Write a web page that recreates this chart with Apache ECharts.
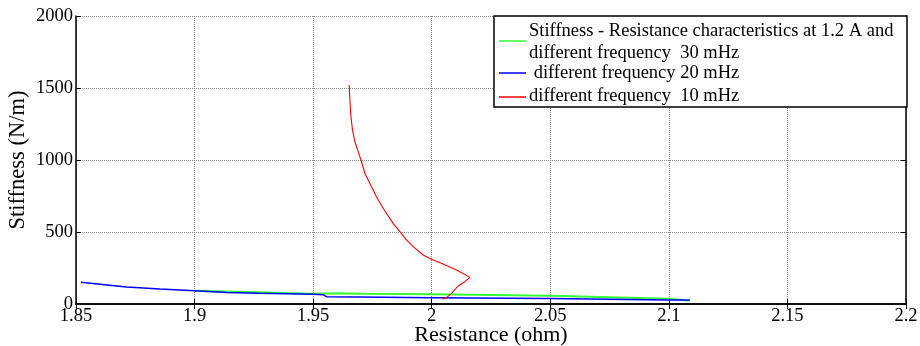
<!DOCTYPE html>
<html><head><meta charset="utf-8">
<script src="https://cdn.jsdelivr.net/npm/echarts@6/dist/echarts.min.js"></script>
<style>html,body{margin:0;padding:0;background:#fff}#c{width:920px;height:346px}</style>
</head><body><div id="c"></div>
<script>
var xTicks = [1.85, 1.9, 1.95, 2, 2.05, 2.1, 2.15, 2.2];
var yTicks = [0, 500, 1000, 1500, 2000];

var greenX = [1.90, 1.922, 1.95, 1.9613, 1.97, 2.0, 2.05, 2.1, 2.1088];
var greenY = [92, 83, 72, 74, 72, 67, 58, 37, 23];

var blueX = [1.8521, 1.8713, 1.8854, 1.9, 1.9135, 1.9275, 1.95, 1.9542, 1.9556, 1.9697, 2.0, 2.05, 2.1, 2.1088];
var blueY = [151, 118, 104, 92, 80, 74, 67, 65, 51, 49, 44, 38, 28, 27];

var redX = [1.9652, 1.9655, 1.9659, 1.9666, 1.9676, 1.9690, 1.9704, 1.9718, 1.9739, 1.9767, 1.9795, 1.9809, 1.9837, 1.9866, 1.9894, 1.9922, 1.9964, 1.9999, 2.0048, 2.0105, 2.0161, 2.0140, 2.0111, 2.0084, 2.0062, 2.0048, 2.0046];
var redY = [1521, 1417, 1308, 1208, 1127, 1058, 988, 908, 838, 745, 665, 630, 560, 502, 444, 398, 340, 310, 278, 236, 185, 155, 125, 74, 44, 35, 44];

var names = ['Stiffness - Resistance characteristics at 1.2 A and\ndifferent frequency  30 mHz', ' different frequency 20 mHz', 'different frequency  10 mHz'];
var xTitle = 'Resistance (ohm)';
var yTitle = 'Stiffness (N/m)';

function pairs(xs, ys){ return xs.map(function(x,i){ return [x, ys[i]]; }); }

var font = '"Liberation Serif", "Times New Roman", serif';
var chart = echarts.init(document.getElementById('c'));
var L = 76, R = 14, T = 16, B = 42;
var gridLine = {show:true, lineStyle:{color:'#888', type:[1,1], width:1}};
chart.setOption({
  animation:false,
  textStyle:{fontFamily:font},
  grid:{left:L, right:R, top:T, bottom:B, containLabel:false, outerBoundsMode:'none'},
  xAxis:[{
    type:'value', min:1.85, max:2.2, interval:0.05,
    axisLine:{show:true, onZero:false, lineStyle:{color:'#000', width:1.5}},
    axisTick:{show:true, inside:true, length:5, lineStyle:{color:'#000'}},
    axisLabel:{color:'#000', fontSize:18.5, fontFamily:font, margin:3,
      formatter:function(v){ return String(parseFloat(v.toFixed(2))); }},
    splitLine:gridLine,
    name:xTitle, nameLocation:'middle', nameGap:20, nameMoveOverlap:false,
    nameTextStyle:{color:'#000', fontSize:22, fontFamily:font}
  },{
    type:'value', position:'top', min:1.85, max:2.2, interval:0.05,
    axisLine:{show:true, lineStyle:{color:'#000', width:1.5}},
    axisTick:{show:true, inside:true, length:5, lineStyle:{color:'#000'}},
    axisLabel:{show:false}, splitLine:{show:false}
  }],
  yAxis:[{
    type:'value', min:0, max:2000, interval:500,
    axisLine:{show:true, onZero:false, lineStyle:{color:'#000', width:1.5}},
    axisTick:{show:true, inside:true, length:5, lineStyle:{color:'#000'}},
    axisLabel:{color:'#000', fontSize:18.5, fontFamily:font, margin:3,
      formatter:function(v){ return String(v); }},
    splitLine:gridLine,
    name:yTitle, nameLocation:'middle', nameGap:46, nameRotate:90, nameMoveOverlap:false,
    nameTextStyle:{color:'#000', fontSize:22.5, fontFamily:font}
  },{
    type:'value', position:'right', min:0, max:2000, interval:500,
    axisLine:{show:true, lineStyle:{color:'#000', width:1.5}},
    axisTick:{show:true, inside:true, length:5, lineStyle:{color:'#000'}},
    axisLabel:{show:false}, splitLine:{show:false}
  }],
  series:[
    {name:names[0], type:'line', data:pairs(greenX, greenY), showSymbol:false, lineStyle:{color:'#33ff33', width:2}, z:2},
    {name:names[1], type:'line', data:pairs(blueX, blueY), showSymbol:false, lineStyle:{color:'#0000ff', width:1.5}, z:3},
    {name:names[2], type:'line', data:pairs(redX, redY), showSymbol:false, lineStyle:{color:'#ff0000', width:1.1}, z:4}
  ],
  graphic:[
    {type:'rect', shape:{x:494, y:16, width:413, height:91}, style:{fill:'#fff', stroke:'#000', lineWidth:1.5}, z:10},
    {type:'line', shape:{x1:499, y1:41, x2:526, y2:41}, style:{stroke:'#33ff33', lineWidth:1.5}, z:11},
    {type:'line', shape:{x1:499, y1:73, x2:526, y2:73}, style:{stroke:'#0000ff', lineWidth:1.5}, z:11},
    {type:'line', shape:{x1:499, y1:97, x2:526, y2:97}, style:{stroke:'#ff0000', lineWidth:1.5}, z:11},
    {type:'text', left:529, top:20, z:11, style:{text:names[0], font:'18.5px '+font, fill:'#000', lineHeight:22}},
    {type:'text', left:529, top:64, z:11, style:{text:names[1], font:'18.5px '+font, fill:'#000'}},
    {type:'text', left:529, top:87, z:11, style:{text:names[2], font:'18.5px '+font, fill:'#000'}}
  ]
});
</script></body></html>
